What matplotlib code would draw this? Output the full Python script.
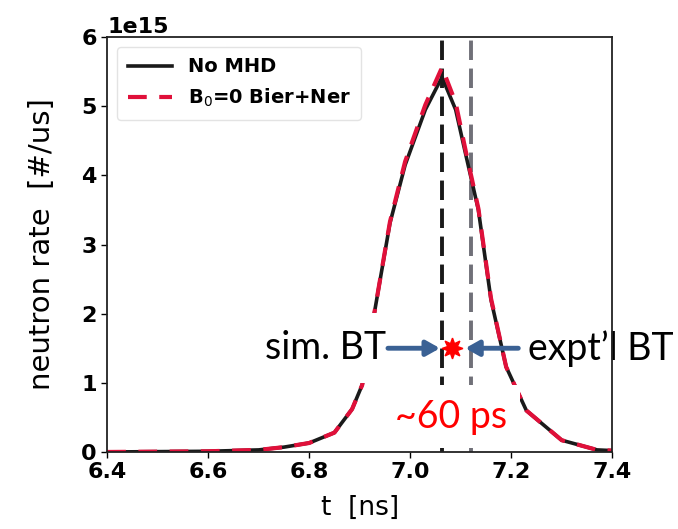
import matplotlib
matplotlib.use("Agg")
import matplotlib.pyplot as plt
import numpy as np

# neutron rate [#/us] (units of 1e15)
t = [6.40, 6.50, 6.60, 6.70, 6.75, 6.80, 6.85, 6.885, 6.905, 6.93, 6.96, 6.99,
     7.03, 7.063, 7.09, 7.11, 7.135, 7.16, 7.19, 7.23, 7.30, 7.37, 7.40]
no_mhd = [0.0, 0.005, 0.01, 0.03, 0.07, 0.13, 0.28, 0.62, 0.97, 2.05, 3.31, 4.15,
          4.95, 5.42, 4.95, 4.30, 3.50, 2.20, 1.23, 0.60, 0.17, 0.03, 0.02]
bier_ner = [0.0, 0.005, 0.01, 0.03, 0.07, 0.13, 0.28, 0.62, 0.97, 2.05, 3.33, 4.20,
            5.02, 5.56, 5.05, 4.35, 3.52, 2.22, 1.23, 0.60, 0.17, 0.03, 0.02]
scale = 1e15

sim_bt = 7.063
expt_bt = 7.121
bt_level = 1.50e15

fig = plt.figure(figsize=(6.78, 5.29), dpi=100)
ax = fig.add_axes([0.158, 0.1456, 0.745, 0.7844])

y1 = np.array(no_mhd) * scale
y2 = np.array(bier_ner) * scale
ax.plot(t, y1, color="#1a1a1a", lw=2.6, label="No MHD", zorder=3)
ax.plot(t, y2, color="#e0103a", lw=3.0, dashes=(4.5, 3.0), label="B$_0$=0 Bier+Ner", zorder=4)

ax.axvline(sim_bt, color="#1a1a1a", lw=2.8, dashes=(5, 2.2), zorder=2)
ax.axvline(expt_bt, color="#707078", lw=2.8, dashes=(5, 2.2), zorder=2)

ax.set_xlim(6.4, 7.4)
ax.set_ylim(0, 6e15)
ax.set_xticks([6.4, 6.6, 6.8, 7.0, 7.2, 7.4])
ax.set_yticks(np.arange(0, 7) * 1e15)
ax.tick_params(direction="out", length=4, width=1, labelsize=16)
for lab in ax.get_xticklabels() + ax.get_yticklabels():
    lab.set_fontweight("bold")
ax.yaxis.get_offset_text().set_fontsize(16)
ax.yaxis.get_offset_text().set_fontweight("bold")
for s in ax.spines.values():
    s.set_linewidth(1.3)
    s.set_color("#222222")
    s.set_zorder(7)

ax.set_xlabel("t  [ns]", fontsize=19, labelpad=9)
ax.set_ylabel("neutron rate  [#/us]", fontsize=21, labelpad=18)

leg = ax.legend(loc="upper left", fontsize=14, handlelength=2.3, frameon=True,
                borderpad=0.55, labelspacing=0.55)
leg.get_frame().set_edgecolor("#dddddd")
for txt in leg.get_texts():
    txt.set_fontweight("bold")

# annotations
ax.text(6.952, bt_level, "sim. BT", fontsize=27, family="Lato", ha="right", va="center",
        bbox=dict(boxstyle="square,pad=0.45", facecolor="white", edgecolor="none"), zorder=6)
ax.text(7.234, bt_level, "expt\u2019l BT", fontsize=27, family="Lato", ha="left", va="center",
        bbox=dict(boxstyle="square,pad=0.12", facecolor="white", edgecolor="none"), zorder=6)
ax.text(7.08, 0.51e15, "~60 ps", fontsize=27, family="Lato", color="red", ha="center",
        va="center", bbox=dict(boxstyle="square,pad=0.36", facecolor="white", edgecolor="none"),
        zorder=6)

arrow = dict(arrowstyle="-|>,head_length=0.8,head_width=0.45", color="#3a6194", lw=3.5,
             shrinkA=0, shrinkB=0)
ax.annotate("", xy=(7.059, bt_level), xytext=(6.956, bt_level), arrowprops=arrow, zorder=7)
ax.annotate("", xy=(7.109, bt_level), xytext=(7.214, bt_level), arrowprops=arrow, zorder=7)
ax.plot([7.083], [bt_level], marker=(8, 1, 0), color="red", markersize=15, zorder=8)

fig.savefig("out.png", dpi=100)
